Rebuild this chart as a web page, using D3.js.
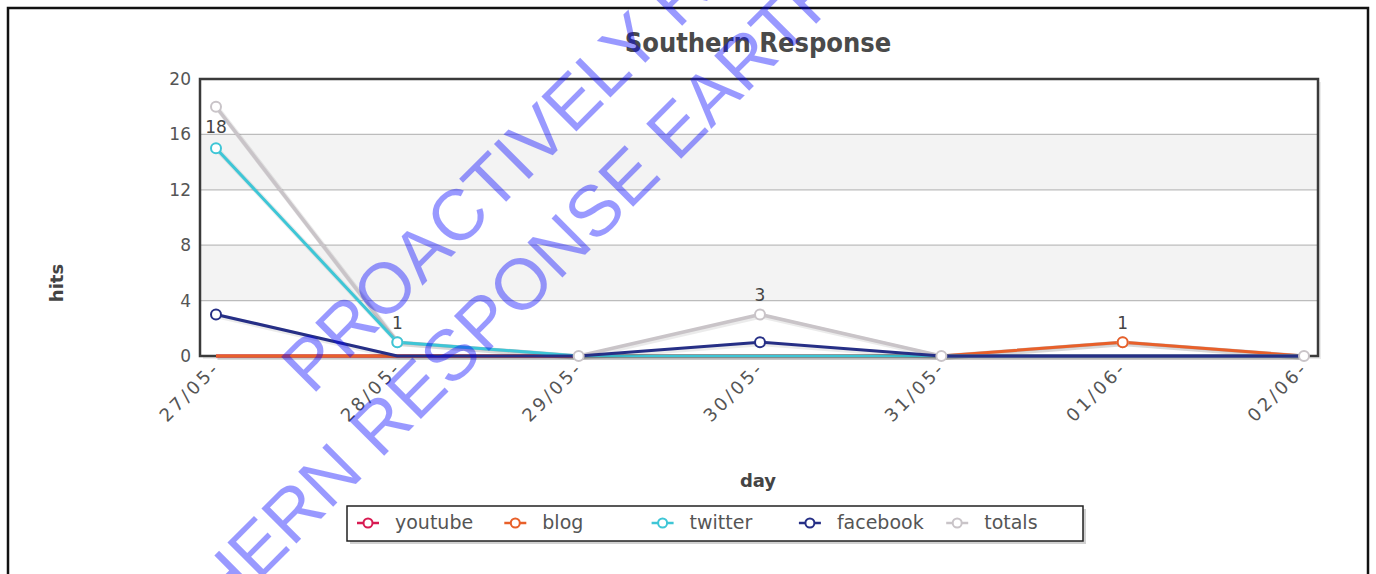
<!DOCTYPE html>
<html>
<head>
<meta charset="utf-8">
<script src="https://cdnjs.cloudflare.com/ajax/libs/d3/7.8.5/d3.min.js"></script>
<style>
  html, body { margin: 0; padding: 0; background: #fff; }
  svg { display: block; }
</style>
</head>
<body>
<div id="chart"></div>
<script>
// ---- data ----
const categories = ["27/05-", "28/05-", "29/05-", "30/05-", "31/05-", "01/06-", "02/06-"];
const youtube  = [0, 0, 0, 0, 0, 0, 0];
const blog     = [0, 0, 0, 0, 0, 1, 0];
const twitter  = [15, 1, 0, 0, 0, 0, 0];
const facebook = [3, 0, 0, 1, 0, 0, 0];
const totals   = [18, 1, 0, 3, 0, 1, 0];
const yTicks   = [0, 4, 8, 12, 16, 20];
const seriesNames  = ["youtube", "blog", "twitter", "facebook", "totals"];
const seriesColors = ["#d81b52", "#e8602a", "#3ec6d6", "#262f86", "#c9c4c8"];
const titleText = "Southern Response";
const watermark1 = "PROACTIVELY RELEASED BY";
const watermark2a = "SOUTHERN";
const watermark2b = "RESPONSE EARTHQUAKE SERVICES";

const seriesValues = [youtube, blog, twitter, facebook, totals];

const W = 1376, H = 574;
const plot = { left: 200, right: 1318, top: 79, bottom: 356 };

const svg = d3.select("#chart").append("svg").attr("width", W).attr("height", H);
svg.append("rect").attr("width", W).attr("height", H).attr("fill", "#fff");

// outer frame
svg.append("rect").attr("x", 8).attr("y", 8).attr("width", 1360).attr("height", 600)
  .attr("fill", "none").attr("stroke", "#111").attr("stroke-width", 2.5);

// title
svg.append("text").attr("x", 758).attr("y", 52).attr("text-anchor", "middle")
  .style("font-family", "'DejaVu Sans Condensed', 'DejaVu Sans'").style("font-stretch", "condensed")
  .style("font-weight", "bold").style("font-size", "27px").attr("fill", "#4a4a4a").text(titleText);

const x = d3.scalePoint().domain(categories).range([216, 1304]);
const y = d3.scaleLinear().domain([0, 20]).range([plot.bottom, plot.top]);

// plot shadow + background bands
svg.append("rect").attr("x", plot.left + 3).attr("y", plot.top + 3)
  .attr("width", plot.right - plot.left).attr("height", plot.bottom - plot.top)
  .attr("fill", "#000").attr("opacity", 0.08);
svg.append("rect").attr("x", plot.left).attr("y", plot.top)
  .attr("width", plot.right - plot.left).attr("height", plot.bottom - plot.top).attr("fill", "#fff");

for (let i = 0; i < yTicks.length - 1; i++) {
  if (i % 2 === 1) {
    svg.append("rect").attr("x", plot.left).attr("y", y(yTicks[i + 1]))
      .attr("width", plot.right - plot.left).attr("height", y(yTicks[i]) - y(yTicks[i + 1]))
      .attr("fill", "#f3f3f3");
  }
}
svg.append("g").selectAll("line").data(yTicks.slice(1, -1)).join("line")
  .attr("x1", plot.left).attr("x2", plot.right)
  .attr("y1", d => y(d)).attr("y2", d => y(d))
  .attr("stroke", "#bcbcbc").attr("stroke-width", 1.2);

// plot border
svg.append("rect").attr("x", plot.left).attr("y", plot.top)
  .attr("width", plot.right - plot.left).attr("height", plot.bottom - plot.top)
  .attr("fill", "none").attr("stroke", "#3a3a3a").attr("stroke-width", 2.5);

// y tick labels
svg.append("g").selectAll("text").data(yTicks).join("text")
  .attr("x", 191).attr("y", d => y(d) + 6).attr("text-anchor", "end")
  .style("font-family", "'DejaVu Sans'").style("font-size", "17px").attr("fill", "#555")
  .text(d => d);

// x tick labels
svg.append("g").selectAll("text").data(categories).join("text")
  .attr("transform", d => `translate(${x(d) + 5},${369}) rotate(-45)`)
  .attr("text-anchor", "end")
  .style("font-family", "'DejaVu Sans'").style("font-size", "18px").style("letter-spacing", "3px")
  .attr("fill", "#555").text(d => d);

// axis titles
svg.append("text").attr("transform", "translate(63,283) rotate(-90)").attr("text-anchor", "middle")
  .style("font-family", "'DejaVu Sans'").style("font-weight", "bold").style("font-size", "18px")
  .attr("fill", "#444").text("hits");
svg.append("text").attr("x", 758).attr("y", 487).attr("text-anchor", "middle")
  .style("font-family", "'DejaVu Sans'").style("font-weight", "bold").style("font-size", "18px")
  .attr("fill", "#444").text("day");

// lines
const line = d3.line().x((d, i) => x(categories[i])).y(d => y(d));
const drawOrder = [4, 0, 1, 2, 3];
const gLines = svg.append("g");
drawOrder.forEach(si => {
  gLines.append("path").attr("d", line(seriesValues[si])).attr("fill", "none")
    .attr("transform", "translate(1.5,1.5)")
    .attr("stroke", "#000").attr("stroke-opacity", 0.08).attr("stroke-width", 5);
  gLines.append("path").attr("d", line(seriesValues[si])).attr("fill", "none")
    .attr("stroke", seriesColors[si]).attr("stroke-width", si === 4 ? 3.5 : 3)
    .attr("stroke-linejoin", "round");
});

// markers
const gMarks = svg.append("g");
drawOrder.forEach(si => {
  const pts = seriesValues[si].map((v, i) => ({ v, i })).filter(p => si === 4 || p.v > 0);
  gMarks.selectAll(null).data(pts).join("circle")
    .attr("cx", p => x(categories[p.i])).attr("cy", p => y(p.v)).attr("r", 5)
    .attr("fill", "#fff").attr("stroke", seriesColors[si]).attr("stroke-width", 2);
});

// totals value labels
const labelPts = totals.map((v, i) => ({ v, i })).filter(p => p.v > 0);
svg.append("g").selectAll("text").data(labelPts).join("text")
  .attr("x", p => x(categories[p.i]))
  .attr("y", p => (y(p.v) - plot.top < 30) ? y(p.v) + 26 : y(p.v) - 13)
  .attr("text-anchor", "middle")
  .style("font-family", "'DejaVu Sans'").style("font-size", "17px").attr("fill", "#444")
  .text(p => p.v);

// legend
const lg = svg.append("g");
lg.append("rect").attr("x", 350).attr("y", 509).attr("width", 736).attr("height", 35)
  .attr("fill", "#000").attr("opacity", 0.18);
lg.append("rect").attr("x", 347).attr("y", 506).attr("width", 736).attr("height", 35)
  .attr("fill", "#fff").attr("stroke", "#222").attr("stroke-width", 1.5);
seriesNames.forEach((name, i) => {
  const cx = 368 + i * 147.3;
  lg.append("line").attr("x1", cx - 11).attr("x2", cx + 11).attr("y1", 523).attr("y2", 523)
    .attr("stroke", seriesColors[i]).attr("stroke-width", 2.5);
  lg.append("circle").attr("cx", cx).attr("cy", 523).attr("r", 4.5)
    .attr("fill", "#fff").attr("stroke", seriesColors[i]).attr("stroke-width", 2);
  lg.append("text").attr("x", cx + 27).attr("y", 529)
    .style("font-family", "'DejaVu Sans'").style("font-size", "19px").attr("fill", "#555")
    .text(name);
});

// watermark
const wm = svg.append("g").style("font-family", "'Liberation Sans', Arial")
  .style("font-size", "72px").attr("fill", "rgb(0,0,255)").attr("fill-opacity", 0.4);
wm.append("text").attr("transform", "translate(312,396) rotate(-45)").text(watermark1);
wm.append("text").attr("transform", "translate(380,460) rotate(-45)").attr("x", -20)
  .attr("text-anchor", "end").text(watermark2a);
wm.append("text").attr("transform", "translate(380,460) rotate(-45)").text(watermark2b);
</script>
</body>
</html>
